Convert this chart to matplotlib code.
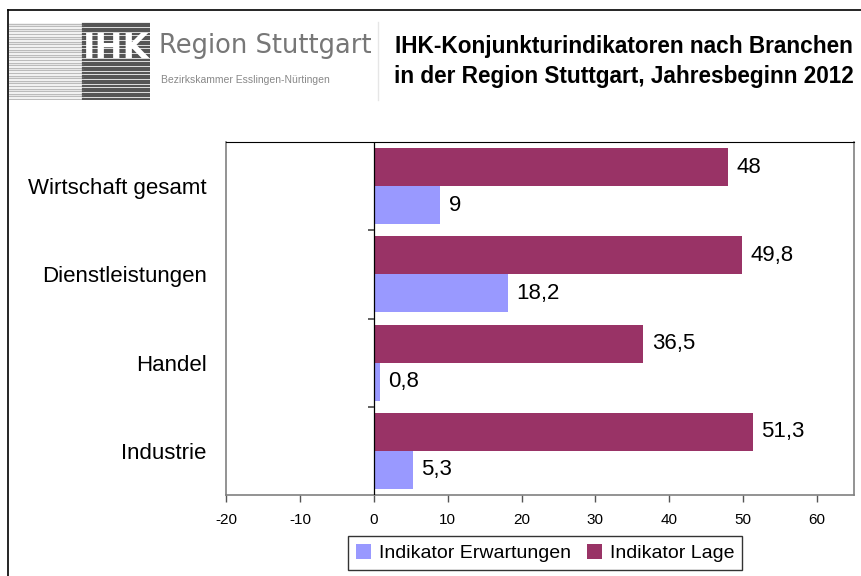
import numpy as np
import matplotlib
matplotlib.use('Agg')
import matplotlib.pyplot as plt
from matplotlib.lines import Line2D

plt.rcParams['font.family'] = ['Liberation Sans', 'DejaVu Sans']

# data
branchen = ['Wirtschaft gesamt', 'Dienstleistungen', 'Handel', 'Industrie']
lage = [48, 49.8, 36.5, 51.3]
erwartungen = [9, 18.2, 0.8, 5.3]
xticks = [-20, -10, 0, 10, 20, 30, 40, 50, 60]

col_lage = '#993366'
col_erw = '#9999FF'

W, H = 862, 576
fig = plt.figure(figsize=(W / 100, H / 100), dpi=100)

def fx(px):
    return px / W

def fy(py):
    return 1 - py / H

# outer frame (only top and left visible in reference)
fig.add_artist(Line2D([fx(8), 1], [fy(10), fy(10)], color='black', lw=1.2, transform=fig.transFigure))
fig.add_artist(Line2D([fx(8), fx(8)], [fy(10), 0], color='black', lw=1.2, transform=fig.transFigure))

# logo
logo = fig.add_axes([fx(9), fy(100), fx(141), (100 - 22) / H])
logo.set_xlim(0, 141)
logo.set_ylim(0, 78)
logo.axis('off')
for yy in np.arange(1, 78, 2.6):
    logo.plot([0, 74], [yy, yy], color='#bbbbbb', lw=1.0)
    logo.plot([74, 141], [yy, yy], color='#555555', lw=1.6)
logo.text(107, 52, 'IHK', color='white', fontsize=24, fontweight='bold', ha='center', va='center',
          family=['DejaVu Sans'])
fig.text(fx(159), fy(46), 'Region Stuttgart', fontsize=18.5, color='#777777',
         ha='left', va='center', family=['DejaVu Sans'])
fig.text(fx(161), fy(80), 'Bezirkskammer Esslingen-Nürtingen', fontsize=7.5, color='#888888',
         ha='left', va='center')
fig.add_artist(Line2D([fx(378), fx(378)], [fy(22), fy(100)], color='#e6e6e6', lw=1,
                      transform=fig.transFigure))

# title
fig.text(fx(624), fy(47), 'IHK-Konjunkturindikatoren nach Branchen', fontsize=16.3,
         fontweight='bold', ha='center', va='center')
fig.text(fx(624), fy(77), 'in der Region Stuttgart, Jahresbeginn 2012', fontsize=16.3,
         fontweight='bold', ha='center', va='center')

# chart
ax = fig.add_axes([fx(226), fy(495), fx(854 - 226), (495 - 142) / H])
pos = np.arange(len(branchen))[::-1]
h = 0.43
ax.barh(pos + h / 2, lage, height=h, color=col_lage, label='Indikator Lage')
ax.barh(pos - h / 2, erwartungen, height=h, color=col_erw, label='Indikator Erwartungen')

for p, v in zip(pos + h / 2, lage):
    ax.annotate(f'{v:g}'.replace('.', ','), (v, p), xytext=(6, 0), textcoords='offset points',
                va='center', ha='left', fontsize=16)
for p, v in zip(pos - h / 2, erwartungen):
    ax.annotate(f'{v:g}'.replace('.', ','), (v, p), xytext=(6, 0), textcoords='offset points',
                va='center', ha='left', fontsize=16)

xmin, xmax = -20, 65
ax.set_xlim(xmin, xmax)
ax.set_ylim(-0.5, len(branchen) - 0.5)
ax.set_xticks(xticks)
ax.set_xticklabels([str(t) for t in xticks], fontsize=11)
ax.tick_params(axis='x', direction='out', length=5, width=1, color='#555555', pad=8)
ax.set_yticks(pos)
ax.set_yticklabels(branchen, fontsize=16)
ax.tick_params(axis='y', length=0, pad=14)
for s in ['left', 'right', 'bottom']:
    ax.spines[s].set_color('#808080')
    ax.spines[s].set_linewidth(1.2)
ax.spines['top'].set_color('black')

# category axis at zero with tick marks between categories
ax.axvline(0, color='black', lw=0.9, zorder=3)
seps = np.arange(len(branchen) - 1) + 0.5
ax.hlines(seps, -0.8, 0, color='#555555', lw=1.3, zorder=4)

handles, labels = ax.get_legend_handles_labels()
leg = fig.legend(handles[::-1], labels[::-1], loc='center', bbox_to_anchor=(fx(545), fy(553)),
                 ncol=2, fontsize=14, frameon=True, fancybox=False, handlelength=0.8,
                 handleheight=0.8, handletextpad=0.4, columnspacing=0.8, borderpad=0.4)
leg.get_frame().set_edgecolor('black')
leg.get_frame().set_linewidth(1)

fig.savefig('out.png', dpi=100)
